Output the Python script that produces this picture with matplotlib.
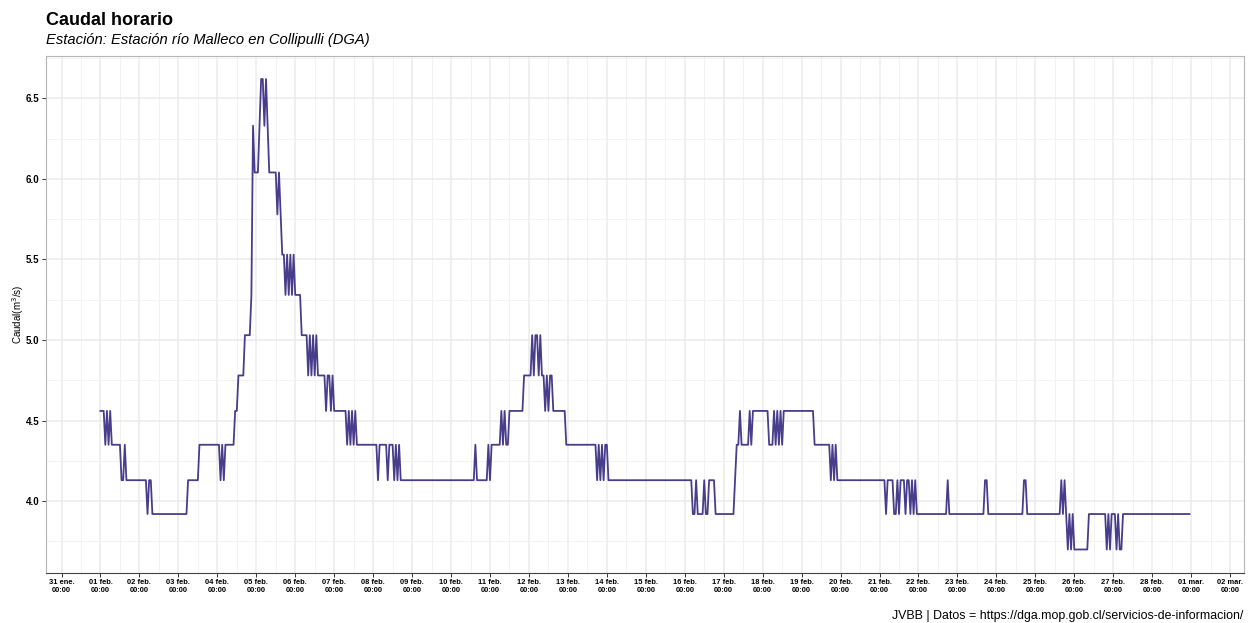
import numpy as np
import pandas as pd
import matplotlib
matplotlib.use("Agg")
import matplotlib.pyplot as plt
import matplotlib.dates as mdates
from matplotlib.ticker import FixedLocator, MultipleLocator, FormatStrFormatter

# Serie horaria por tramos: hora (desde 01 feb 00:00) en que cambia el caudal
# y caudal (m3/s) desde esa hora. Filas de 10 en ambas listas.
cambio_h = [0, 3, 4, 5, 6, 7, 13, 15, 16, 29,
            30, 32, 54, 61, 74, 75, 76, 77, 83, 85,
            89, 93, 94, 95, 98, 99, 101, 102, 103, 104,
            109, 110, 111, 112, 114, 115, 116, 117, 118, 119,
            120, 124, 128, 129, 130, 131, 132, 133, 134, 139,
            140, 142, 143, 144, 152, 153, 154, 155, 156, 157,
            158, 171, 172, 177, 178, 181, 182, 183, 184, 185,
            231, 232, 239, 240, 241, 247, 248, 249, 250, 252,
            261, 266, 267, 268, 270, 271, 272, 274, 275, 276,
            277, 279, 287, 306, 307, 308, 309, 310, 311, 313,
            365, 367, 368, 372, 373, 375, 379, 391, 392, 394,
            395, 400, 401, 402, 412, 415, 416, 417, 418, 419,
            420, 421, 440, 450, 451, 452, 453, 454, 484, 485,
            489, 491, 492, 493, 496, 497, 499, 500, 501, 502,
            503, 522, 523, 545, 547, 569, 571, 592, 593, 594,
            595, 596, 597, 598, 599, 600, 609, 620, 621, 622,
            623, 626, 627, 628, 630]
caudal = [4.56, 4.35, 4.56, 4.35, 4.56, 4.35, 4.13, 4.35, 4.13, 3.92,
          4.13, 3.92, 4.13, 4.35, 4.13, 4.35, 4.13, 4.35, 4.56, 4.78,
          5.03, 5.28, 6.33, 6.04, 6.33, 6.62, 6.33, 6.62, 6.33, 6.04,
          5.78, 6.04, 5.78, 5.53, 5.28, 5.53, 5.28, 5.53, 5.28, 5.53,
          5.28, 5.03, 4.78, 5.03, 4.78, 5.03, 4.78, 5.03, 4.78, 4.56,
          4.78, 4.56, 4.78, 4.56, 4.35, 4.56, 4.35, 4.56, 4.35, 4.56,
          4.35, 4.13, 4.35, 4.13, 4.35, 4.13, 4.35, 4.13, 4.35, 4.13,
          4.35, 4.13, 4.35, 4.13, 4.35, 4.56, 4.35, 4.56, 4.35, 4.56,
          4.78, 5.03, 4.78, 5.03, 4.78, 5.03, 4.78, 4.56, 4.78, 4.56,
          4.78, 4.56, 4.35, 4.13, 4.35, 4.13, 4.35, 4.13, 4.35, 4.13,
          3.92, 4.13, 3.92, 4.13, 3.92, 4.13, 3.92, 4.13, 4.35, 4.56,
          4.35, 4.56, 4.35, 4.56, 4.35, 4.56, 4.35, 4.56, 4.35, 4.56,
          4.35, 4.56, 4.35, 4.13, 4.35, 4.13, 4.35, 4.13, 3.92, 4.13,
          3.92, 4.13, 3.92, 4.13, 3.92, 4.13, 3.92, 4.13, 3.92, 4.13,
          3.92, 4.13, 3.92, 4.13, 3.92, 4.13, 3.92, 4.13, 3.92, 4.13,
          3.92, 3.70, 3.92, 3.70, 3.92, 3.70, 3.92, 3.70, 3.92, 3.70,
          3.92, 3.70, 3.92, 3.70, 3.92]
n_horas = 672

y_ticks = [4.0, 4.5, 5.0, 5.5, 6.0, 6.5]
meses = {1: "ene", 2: "feb", 3: "mar"}

titulo = "Caudal horario"
subtitulo = "Estación: Estación río Malleco en Collipulli (DGA)"
pie = "JVBB | Datos = https://dga.mop.gob.cl/servicios-de-informacion/"

plt.rcParams["font.family"] = ["Liberation Sans", "DejaVu Sans"]

# ── serie horaria ──
dur = np.diff(cambio_h + [n_horas])
valores = np.repeat(caudal, dur)
fechas = pd.date_range("2025-02-01 00:00", periods=n_horas, freq="h")

W, H = 1251, 623
fig = plt.figure(figsize=(W / 100, H / 100), dpi=100)
ax = fig.add_axes([46 / W, 1 - 573 / H, (1244 - 46) / W, (573 - 55.5) / H])

ax.plot(fechas, valores, color="#483D8B", lw=1.3, zorder=3)

# expansion tipo ggplot (5 %)
span = fechas[-1] - fechas[0]
ax.set_xlim(fechas[0] - span * 0.05, fechas[-1] + span * 0.05)
rango = max(caudal) - min(caudal)
ax.set_ylim(min(caudal) - 0.05 * rango, max(caudal) + 0.05 * rango)

dias = pd.date_range("2025-01-31", "2025-03-02", freq="D")
ax.xaxis.set_major_locator(FixedLocator(mdates.date2num(dias)))
ax.set_xticklabels([f"{d.day:02d} {meses[d.month]}.\n00:00" for d in dias])
medios = dias[:-1] + pd.Timedelta(hours=12)
ax.xaxis.set_minor_locator(FixedLocator(mdates.date2num(medios)))

ax.yaxis.set_major_locator(FixedLocator(y_ticks))
ax.yaxis.set_major_formatter(FormatStrFormatter("%.1f"))
ax.yaxis.set_minor_locator(MultipleLocator(0.25))

ax.grid(which="major", color="#EBEBEB", lw=1.1, zorder=0)
ax.grid(which="minor", color="#F2F2F2", lw=0.7, zorder=0)
ax.set_axisbelow(True)

for s in ["top", "right", "left"]:
    ax.spines[s].set_color("#B5B5B5")
    ax.spines[s].set_linewidth(0.8)
ax.spines["bottom"].set_color("#444444")
ax.spines["bottom"].set_linewidth(0.8)

ax.tick_params(axis="x", which="major", labelsize=5.4, length=3, width=0.7,
               color="#333333", pad=1.5)
ax.tick_params(axis="y", which="major", labelsize=7, length=3, width=0.7,
               color="#333333", pad=2)
ax.tick_params(which="minor", length=0)
for lab in ax.get_xticklabels() + ax.get_yticklabels():
    lab.set_fontweight("bold")
    lab.set_color("black")
for lab in ax.get_xticklabels():
    lab.set_linespacing(1.05)

ax.set_ylabel("Caudal(m$^3$/s)", fontsize=7, labelpad=6)
ax.yaxis.set_label_coords(-20 / (1244 - 46), 0.5)

fig.text(46 / W, 1 - 25 / H, titulo, fontsize=13, fontweight="bold",
         va="baseline", ha="left")
fig.text(46 / W, 1 - 44 / H, subtitulo, fontsize=10.6, style="italic",
         va="baseline", ha="left")
fig.text(1243 / W, 1 - 619 / H, pie, fontsize=8.9, va="baseline", ha="right")

fig.savefig("out.png", dpi=100)
